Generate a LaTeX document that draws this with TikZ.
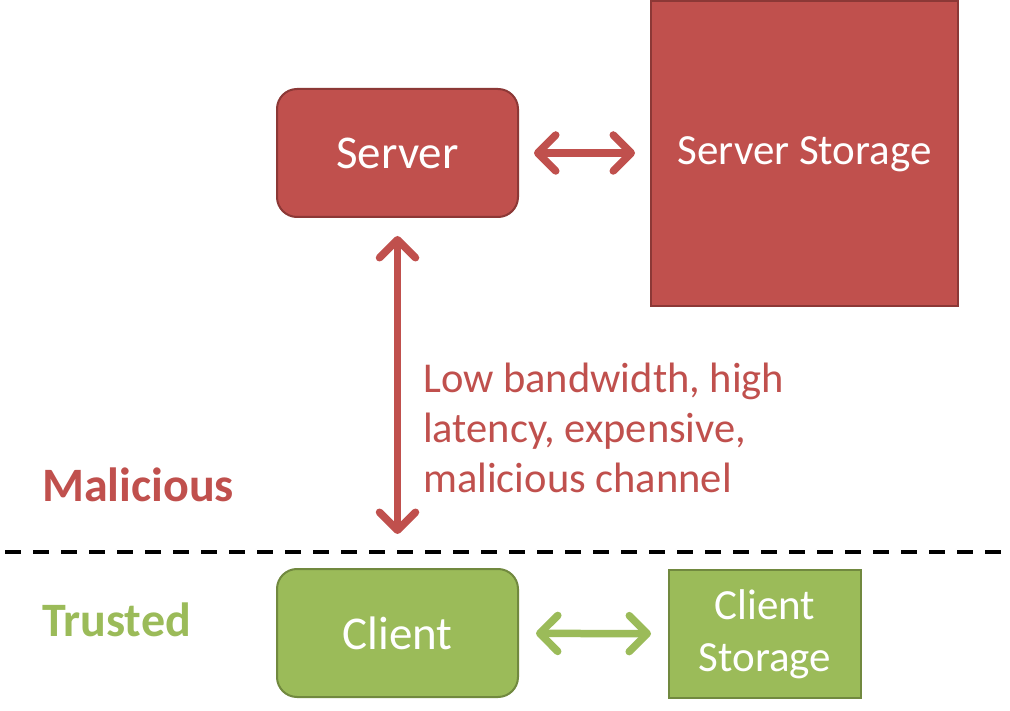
\documentclass[tikz,border=0pt]{standalone}
\usepackage{fontspec}
\setmainfont{Carlito}
\usetikzlibrary{arrows.meta}
\definecolor{srvred}{HTML}{C0504D}
\definecolor{srvredd}{HTML}{8C3836}
\definecolor{cligreen}{HTML}{9BBB59}
\definecolor{cligreend}{HTML}{71893F}
\tikzset{
  redbox/.style={fill=srvred,draw=srvredd,line width=2pt,text=white,font=\fontsize{47}{52}\selectfont},
  greenbox/.style={fill=cligreen,draw=cligreend,line width=2pt,text=white,font=\fontsize{47}{52}\selectfont},
  barbs/.style={{Straight Barb[round,length=18pt,width=36pt]}-{Straight Barb[round,length=18pt,width=36pt]}},
  redarr/.style={draw=srvred,line width=7.5pt,line cap=round,barbs},
  greenarr/.style={draw=cligreen,line width=7.5pt,line cap=round,barbs},
}
\begin{document}
\begin{tikzpicture}[x=1pt,y=-1pt]
\useasboundingbox[fill=white] (0,0) rectangle (1010,711);
\node[redbox,rounded corners=20pt,minimum width=241pt,minimum height=128pt,inner sep=0pt] (server) at (397.5,153) {Server};
\node[redbox,minimum width=307pt,minimum height=305pt,inner sep=0pt,font=\fontsize{43}{50}\selectfont] (sstore) at (804.5,154) {Server Storage};
\node[greenbox,rounded corners=20pt,minimum width=241pt,minimum height=128pt,inner sep=0pt] (client) at (397.5,633) {Client};
\node[greenbox,minimum width=192pt,minimum height=128pt,inner sep=0pt,align=center,font=\fontsize{43}{52}\selectfont] (cstore) at (765,634) {Client\\Storage};
\draw[redarr,shorten <=15pt,shorten >=15pt] (server) -- (sstore.west |- server);
\draw[redarr,shorten <=18pt,shorten >=34pt] (server) -- (client);
\draw[greenarr,shorten <=17pt,shorten >=17pt] (client) -- (cstore);
\node[anchor=west,align=left,text=srvred,font=\fontsize{42.5}{50}\selectfont,inner sep=0pt] (label) at (423,428) {Low bandwidth, high\\latency, expensive,\\malicious channel};
\node[anchor=west,text=srvred,font=\bfseries\fontsize{48}{52}\selectfont,inner sep=0pt] (mal) at (42,485) {Malicious};
\node[anchor=west,text=cligreen,font=\bfseries\fontsize{48}{52}\selectfont,inner sep=0pt] (tru) at (42,620) {Trusted};
\coordinate (dl) at (5,552);
\coordinate (dr) at (1010,552);
\draw[line width=4pt,dash pattern=on 16pt off 12pt] (dl) -- (dr);
\end{tikzpicture}
\end{document}
